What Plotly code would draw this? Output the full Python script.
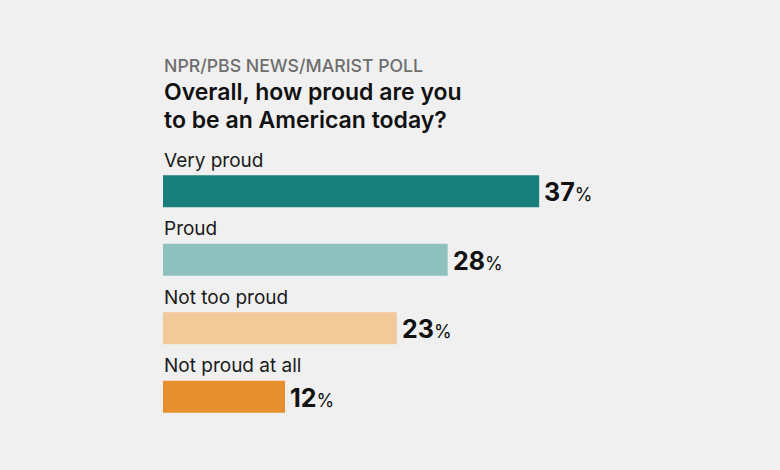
import plotly.graph_objects as go

categories = ["Very proud", "Proud", "Not too proud", "Not proud at all"]
values = [37, 28, 23, 12]
colors = ["#187f7c", "#8ec1be", "#f2c998", "#e78f2e"]

subtitle = "NPR/PBS NEWS/MARIST POLL"
title_lines = ["Overall, how proud are you", "to be an American today?"]

FONT = "Inter"
BG = "#f0f0f0"

fig = go.Figure(go.Bar(
    x=values, y=categories, orientation="h",
    marker=dict(color=colors, line=dict(width=0)),
    hoverinfo="skip",
))

ann = []
for c, v in zip(categories, values):
    ann.append(dict(x=0, y=c, xref="x", yref="y", text=c, showarrow=False,
                    xanchor="left", yanchor="middle", yshift=31, xshift=-1,
                    font=dict(family=FONT, size=19, color="#1a1a1a")))
    ann.append(dict(x=v, y=c, xref="x", yref="y",
                    text=f"<b>{v}</b><span style='font-size:18px'>%</span>",
                    showarrow=False, xanchor="left", yanchor="middle", xshift=3, yshift=-1,
                    font=dict(family=FONT, size=25, color="#111111")))

ann.append(dict(x=0, y=1, xref="paper", yref="paper", text=subtitle, showarrow=False,
                xanchor="left", yanchor="middle", yshift=92, xshift=-1,
                font=dict(family=FONT, size=17.7, color="#6e6e6e", weight=500)))
for i, line in enumerate(title_lines):
    ann.append(dict(x=0, y=1, xref="paper", yref="paper", text=line, showarrow=False,
                    xanchor="left", yanchor="middle", yshift=65 - 28 * i, xshift=-1,
                    font=dict(family=FONT, size=23, color="#111111", weight=600)))

fig.update_layout(
    width=780, height=470,
    margin=dict(l=163, r=7, t=157, b=39),
    paper_bgcolor=BG, plot_bgcolor=BG,
    bargap=0.534,
    showlegend=False,
    annotations=ann,
    xaxis=dict(range=[0, 60], visible=False, fixedrange=True),
    yaxis=dict(categoryorder="array", categoryarray=categories[::-1],
               range=[-0.5, 3.5], autorange=False, visible=False, fixedrange=True),
)

fig.write_html("out.html", config={"displayModeBar": False})
